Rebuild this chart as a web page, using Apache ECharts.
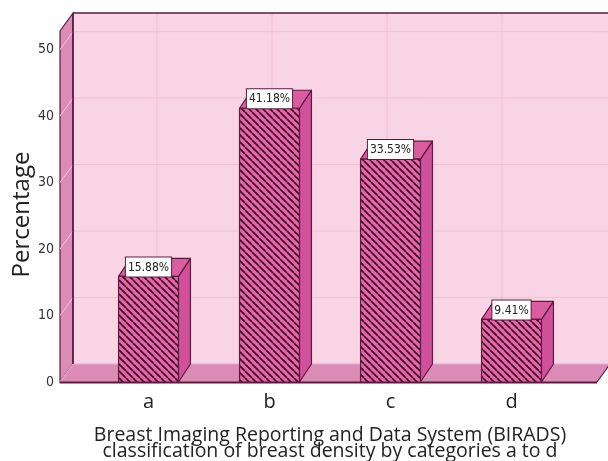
<!DOCTYPE html>
<html><head><meta charset="utf-8">
<script src="https://cdn.jsdelivr.net/npm/echarts@6/dist/echarts.min.js"></script>
<style>html,body{margin:0;padding:0;background:#fff}#c{width:608px;height:461px}</style>
</head><body><div id="c"></div>
<script>
const categories = ['a', 'b', 'c', 'd'];
const percentages = [15.88, 41.18, 33.53, 9.41];
const yTicks = [0, 10, 20, 30, 40, 50];
const xTitle = 'Breast Imaging Reporting and Data System (BIRADS)\nclassification of breast density by categories a to d';
const yTitle = 'Percentage';

const DX = 13, DY = -18;       // wall depth
const BDX = 12, BDY = -18;     // bar depth
const EDGE = '#5e1a3e';
const NARROW = '"Liberation Sans Narrow", "DejaVu Sans Condensed", sans-serif';

// hatch pattern
const P = 7;
const pc = document.createElement('canvas');
pc.width = P; pc.height = P;
const g = pc.getContext('2d');
g.fillStyle = '#e766a7'; g.fillRect(0, 0, P, P);
g.strokeStyle = '#3a0c28'; g.lineWidth = 1.7;
for (const k of [-P, 0, P]) { g.beginPath(); g.moveTo(k, 0); g.lineTo(k + P, P); g.stroke(); }

const chart = echarts.init(document.getElementById('c'), null, {renderer: 'canvas'});

function wallsItem(params, api) {
  const cs = params.coordSys;
  const yb = api.coord([0, 0])[1];
  const yt = cs.y;
  const X0 = cs.x - 28, X1 = cs.x + cs.width + 25;
  const BX0 = X0 + DX, BX1 = X1 + DX;
  const ch = [];
  ch.push({type: 'rect', shape: {x: BX0, y: yt + DY, width: BX1 - BX0 + 20, height: yb - yt},
    style: {fill: '#f8d4e4', stroke: null}});
  yTicks.slice(1).forEach(v => {
    const y = api.coord([0, v])[1] + DY;
    ch.push({type: 'line', shape: {x1: BX0, y1: y, x2: BX1 + 20, y2: y}, style: {stroke: '#f1bfd7', lineWidth: 1}});
  });
  categories.forEach((c, i) => {
    const cx = api.coord([i, 0])[0];
    const bx = BX0 + (cx - X0) * 0.95;
    ch.push({type: 'line', shape: {x1: bx, y1: yt + DY, x2: bx, y2: yb + DY}, style: {stroke: '#f1bfd7', lineWidth: 1}});
  });
  ch.push({type: 'line', shape: {x1: BX0, y1: yt + DY, x2: BX1 + 20, y2: yt + DY}, style: {stroke: EDGE, lineWidth: 1.6}});
  ch.push({type: 'polygon', shape: {points: [[X0, yt], [BX0, yt + DY], [BX0, yb + DY], [X0, yb]]},
    style: {fill: '#da8cb6', stroke: EDGE, lineWidth: 1.2}});
  yTicks.slice(1).forEach(v => {
    const y = api.coord([0, v])[1];
    ch.push({type: 'line', shape: {x1: X0, y1: y, x2: BX0, y2: y + DY}, style: {stroke: '#f3c6dc', lineWidth: 1}});
  });
  ch.push({type: 'polygon', shape: {points: [[X0, yb], [BX0, yb + DY], [BX1, yb + DY], [X1, yb]]},
    style: {fill: '#da8cb6', stroke: null}});
  ch.push({type: 'line', shape: {x1: X0, y1: yb, x2: BX0, y2: yb + DY}, style: {stroke: '#eab4cf', lineWidth: 1}});
  ch.push({type: 'line', shape: {x1: BX0, y1: yb + DY, x2: BX1, y2: yb + DY}, style: {stroke: '#e7aecb', lineWidth: 1}});
  ch.push({type: 'line', shape: {x1: BX0, y1: yt + DY, x2: BX0, y2: yb + DY}, style: {stroke: EDGE, lineWidth: 1.6}});
  ch.push({type: 'line', shape: {x1: X0, y1: yb + 0.5, x2: X1, y2: yb + 0.5}, style: {stroke: EDGE, lineWidth: 2}});
  ch.push({type: 'line', shape: {x1: X1, y1: yb, x2: BX1, y2: yb + DY}, style: {stroke: EDGE, lineWidth: 1.2}});
  return {type: 'group', children: ch};
}

function barItem(params, api) {
  const i = api.value(0), v = api.value(1);
  const top = api.coord([i, v]);
  const base = api.coord([i, 0]);
  const w = api.size([1, 0])[0] * 0.495;
  const x0 = top[0] - w / 2, x1 = top[0] + w / 2;
  const yt = top[1], yb = base[1];
  const st = {stroke: EDGE, lineWidth: 1.2, lineJoin: 'round'};
  return {type: 'group', children: [
    {type: 'polygon', shape: {points: [[x1, yt], [x1 + BDX, yt + BDY], [x1 + BDX, yb + BDY], [x1, yb]]},
      style: Object.assign({fill: '#d0509a'}, st)},
    {type: 'polygon', shape: {points: [[x0, yt], [x0 + BDX, yt + BDY], [x1 + BDX, yt + BDY], [x1, yt]]},
      style: Object.assign({fill: '#d95da0'}, st)},
    {type: 'rect', shape: {x: x0, y: yt, width: w, height: yb - yt},
      style: Object.assign({fill: {image: pc, repeat: 'repeat'}}, st)},
    {type: 'text', x: top[0], y: yt,
      style: {text: v.toFixed(2) + '%', font: '12px ' + NARROW, lineHeight: 14,
        fill: '#222', align: 'center', verticalAlign: 'bottom', backgroundColor: '#fff',
        borderColor: EDGE, borderWidth: 1, padding: [3, 2, 2, 2]}}
  ]};
}

chart.setOption({
  animation: false,
  grid: {left: 88, right: 36, top: 31, bottom: 79, outerBoundsMode: 'none', containLabel: false},
  xAxis: {
    type: 'category', data: categories,
    axisLine: {show: false}, axisTick: {show: false},
    axisLabel: {fontSize: 20, color: '#222', margin: 10, fontFamily: 'Open Sans'},
    name: xTitle, nameLocation: 'middle', nameGap: 45, nameMoveOverlap: false,
    nameTextStyle: {fontSize: 19.5, lineHeight: 16.5, color: '#222', fontFamily: 'Open Sans'}
  },
  yAxis: {
    type: 'value', min: 0, max: 52.8, interval: 10,
    axisLine: {show: false}, axisTick: {show: false}, splitLine: {show: false},
    axisLabel: {fontSize: 14, color: '#333', margin: 34, fontFamily: NARROW,
      formatter: v => (yTicks.indexOf(v) >= 0 ? String(v) : '')},
    name: yTitle, nameLocation: 'middle', nameRotate: 90, nameGap: 54, nameMoveOverlap: false,
    nameTextStyle: {fontSize: 24, color: '#222', fontFamily: 'Open Sans', padding: [0, 16, 0, 0]}
  },
  series: [
    {type: 'custom', renderItem: wallsItem, data: [[0, 0]], z: 1, silent: true},
    {type: 'custom', renderItem: barItem, data: percentages.map((v, i) => [i, v]), z: 2, silent: true}
  ]
});
</script></body></html>
